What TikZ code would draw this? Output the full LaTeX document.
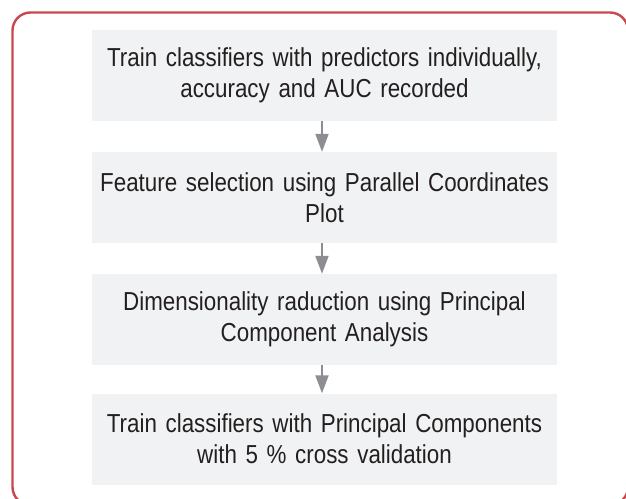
\documentclass[tikz,border=0pt]{standalone}
\usepackage{fontspec}
\setmainfont{Liberation Sans}[FakeStretch=0.86]
\usetikzlibrary{arrows.meta}
\definecolor{frame}{HTML}{C9474F}
\definecolor{boxfill}{HTML}{F1F2F3}
\definecolor{arrowgray}{HTML}{8C8E91}
\definecolor{txt}{HTML}{231F20}
\tikzset{
  stepbox/.style={rectangle, fill=boxfill, draw=none, minimum width=465pt, minimum height=91pt,
    text width=450pt, inner sep=0pt, align=center, text=txt,
    font=\fontsize{26}{31}\selectfont},
  flow/.style={draw=arrowgray, line width=2pt, -{Triangle[length=18pt, width=13pt]}}
}
\begin{document}
\begin{tikzpicture}[x=1pt, y=-1pt]
\useasboundingbox (0,0) rectangle (626,498);
\draw[frame, line width=2.4pt, rounded corners=18pt] (12.5,12.5) rectangle (628,505);
\node[stepbox] (b1) at (324.5,75.5) {Train classifiers with predictors individually,\\accuracy and AUC recorded};
\node[stepbox] (b2) at (324.5,197.5) {Feature selection using Parallel Coordinates\\Plot};
\node[stepbox] (b3) at (324.5,319.5) {Dimensionality raduction using Principal\\Component Analysis};
\node[stepbox] (b4) at (324.5,439) {Train classifiers with Principal Components\\with 5 \% cross validation};
\draw[flow] ([xshift=-2.5pt]b1.south) -- ([xshift=-2.5pt]b2.north);
\draw[flow] ([xshift=-2.5pt]b2.south) -- ([xshift=-2.5pt]b3.north);
\draw[flow] ([xshift=-2.5pt]b3.south) -- ([xshift=-2.5pt]b4.north);
\end{tikzpicture}
\end{document}
